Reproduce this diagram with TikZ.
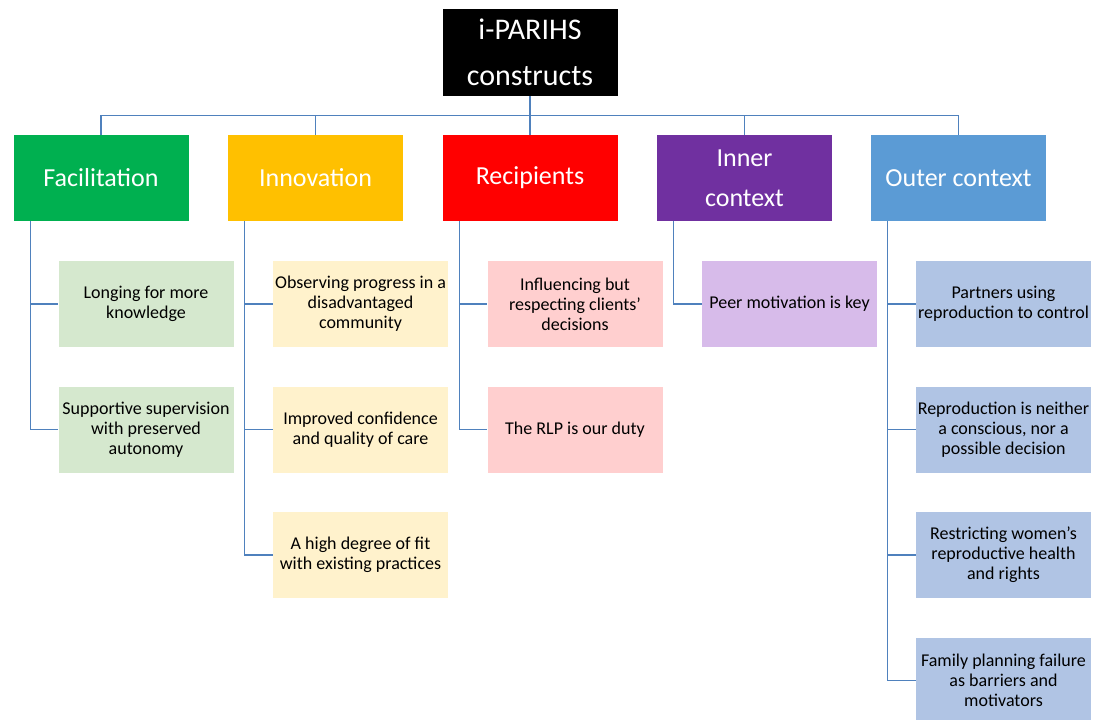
\documentclass[tikz,border=0pt]{standalone}
\usepackage{fontspec}
\setmainfont{Carlito}
\usetikzlibrary{calc}

\definecolor{linkblue}{RGB}{79,129,189}
\definecolor{facgreen}{RGB}{0,176,80}
\definecolor{innyellow}{RGB}{255,192,0}
\definecolor{recred}{RGB}{255,0,0}
\definecolor{inpurple}{RGB}{112,48,160}
\definecolor{outblue}{RGB}{91,155,213}
\definecolor{facsoft}{RGB}{213,232,206}
\definecolor{innsoft}{RGB}{255,242,204}
\definecolor{recsoft}{RGB}{255,207,207}
\definecolor{insoft}{RGB}{215,187,234}
\definecolor{outsoft}{RGB}{176,196,228}

\begin{document}
\begin{tikzpicture}[x=0.75pt,y=-0.75pt,
  box/.style={minimum width=131.25pt,minimum height=64.5pt,inner sep=0pt,align=center},
  head/.style={box,text=white,font=\fontsize{19.5pt}{30pt}\selectfont},
  item/.style={box,text=black,font=\fontsize{13.5pt}{15pt}\selectfont},
  link/.style={draw=linkblue,line width=1.1pt}]
  \useasboundingbox (0,0) rectangle (1102,719);

  \node[box,fill=black,text=white,minimum height=65.25pt,
    font=\fontsize{22.5pt}{34.5pt}\selectfont] (top) at (530,52.5) {i-PARIHS\\constructs};

  \node[head,fill=facgreen] (fac) at (101,178) {Facilitation};
  \node[head,fill=innyellow] (inn) at (315.5,178) {Innovation};
  \node[head,fill=recred] (rec) at (530,178) {Recipients};
  \node[head,fill=inpurple] (inc) at (744.5,178) {Inner\\context};
  \node[head,fill=outblue] (outc) at (958.5,178) {Outer context};

  \foreach \n in {fac,inn,rec,inc,outc}
    \draw[link] (\n.north) -- ++(0,-19) -| (top.south);

  % parent, name, row, fill, text
  \newcommand{\kid}[5]{
    \node[item,fill=#4] (#2) at ($(#1.center)+(45,{126+(#3-1)*125.5})$) {#5};
    \draw[link] ($(#1.south west)+(17,0)$) |- (#2.west);
  };

  \kid{fac}{fac1}{1}{facsoft}{Longing for more\\knowledge};
  \kid{fac}{fac2}{2}{facsoft}{Supportive supervision\\with preserved\\autonomy};

  \kid{inn}{inn1}{1}{innsoft}{Observing progress in a\\disadvantaged\\community};
  \kid{inn}{inn2}{2}{innsoft}{Improved confidence\\and quality of care};
  \kid{inn}{inn3}{3}{innsoft}{A high degree of fit\\with existing practices};

  \kid{rec}{rec1}{1}{recsoft}{Influencing but\\respecting clients’\\decisions};
  \kid{rec}{rec2}{2}{recsoft}{The RLP is our duty};

  \kid{inc}{inc1}{1}{insoft}{Peer motivation is key};

  \kid{outc}{outc1}{1}{outsoft}{Partners using\\reproduction to control};
  \kid{outc}{outc2}{2}{outsoft}{Reproduction is neither\\a conscious, nor a\\possible decision};
  \kid{outc}{outc3}{3}{outsoft}{Restricting women’s\\reproductive health\\and rights};
  \kid{outc}{outc4}{4}{outsoft}{Family planning failure\\as barriers and\\motivators};

\end{tikzpicture}
\end{document}
